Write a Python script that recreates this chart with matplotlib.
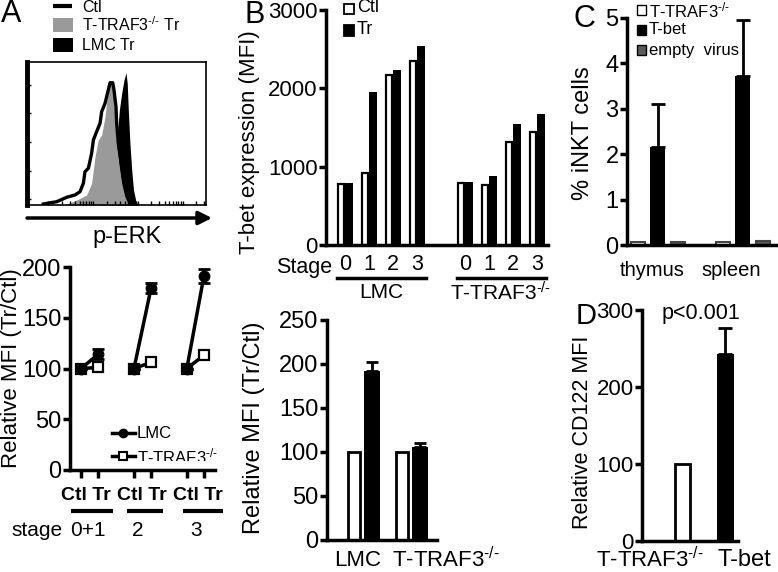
import matplotlib
matplotlib.use('Agg')
import matplotlib.pyplot as plt
from matplotlib.patches import Rectangle
from matplotlib.lines import Line2D
from matplotlib import transforms
import numpy as np

plt.rcParams['font.family'] = ['Liberation Sans', 'DejaVu Sans']
plt.rcParams['mathtext.fontset'] = 'custom'
plt.rcParams['mathtext.rm'] = 'Liberation Sans'
plt.rcParams['mathtext.it'] = 'Liberation Sans:italic'
plt.rcParams['mathtext.bf'] = 'Liberation Sans:bold'

KO = 'T-TRAF3$^{\\text{-/-}}$'

# ---------------- data ----------------
# Panel A histogram (x: % of axis width, y: % of axis height)
hist_ctl_x = [9.1, 16.6, 22.2, 26.8, 29.6, 31.5, 32.4, 34.3, 36.1, 37.1, 38.9, 40.8, 41.7,
              43.6, 45.4, 46.4, 47.9, 48.6, 49.7, 50.1, 51.0, 52.4, 53.8, 55.3, 57.5, 60.3]
hist_ctl_y = [0.7, 2.3, 5.4, 7.0, 9.3, 15.2, 23.3, 25.7, 36.2, 45.5, 51.3, 57.1, 65.2,
              71.1, 80.4, 85.5, 85.5, 80.4, 68.8, 57.1, 43.1, 31.5, 19.8, 10.5, 3.5, 0.7]
hist_traf3_x = [22.2, 27.8, 33.3, 36.1, 38.0, 39.8, 41.7, 43.6, 44.5, 46.0, 47.3, 48.2,
                49.2, 50.1, 51.6, 52.9, 54.7, 56.6]
hist_traf3_y = [0.7, 3.5, 7.0, 15.2, 33.8, 45.5, 49.0, 61.8, 72.3, 82.7, 85.1, 78.1,
                59.4, 43.1, 26.8, 15.2, 5.8, 0.7]
hist_lmc_x = [40.8, 48.2, 50.1, 51.6, 52.9, 54.2, 55.3, 56.0, 56.6, 57.5, 58.5, 59.5, 60.9, 61.6]
hist_lmc_y = [0.7, 31.5, 43.1, 66.4, 78.1, 87.4, 92.5, 85.1, 66.4, 43.1, 24.5, 10.5, 2.3, 0.7]

# Panel A lower
stagesA = ['0+1', '2', '3']
pairA = ['Ctl', 'Tr']
ctlA = 100
lmcA_tr = [114, 179, 191]
lmcA_err = [5, 5, 7]
traf3A_tr = [101, 106, 113]

# Panel B top
stagesB = ['0', '1', '2', '3']
groupsB = ['LMC', KO]
tbet_lmc_ctl = [775, 920, 2165, 2345]
tbet_lmc_tr = [795, 1950, 2230, 2545]
tbet_traf3_ctl = [790, 765, 1315, 1445]
tbet_traf3_tr = [805, 880, 1550, 1670]

# Panel B bottom
rel_groups = ['LMC', KO]
rel_ctl = [100, 100]
rel_tr = [192, 106]
rel_tr_err = [10, 4]

# Panel C
tissues = ['thymus', 'spleen']
inkt_traf3 = [0.07, 0.06]
inkt_tbet = [2.15, 3.72]
inkt_tbet_err = [0.95, 1.23]
inkt_empty = [0.07, 0.08]
legendC = [KO, 'T-bet', 'empty  virus']

# Panel D
d_groups = [KO, 'T-bet']
cd122 = [100, 243]
cd122_err = [0, 34]

# ---------------- helpers ----------------
W, H = 778, 572
fig = plt.figure(figsize=(W / 100, H / 100), dpi=100)


def ax_px(x0, y0, x1, y1):
    return fig.add_axes([x0 / W, 1 - y1 / H, (x1 - x0) / W, (y1 - y0) / H])


def fx(x):
    return x / W


def fy(y):
    return 1 - y / H


def txt(x, y, s, size=15, ha='center', va='center', **kw):
    return fig.text(fx(x), fy(y), s, fontsize=size, ha=ha, va=va, **kw)


def hline(x0, x1, y, lw=2.5):
    fig.add_artist(Line2D([fx(x0), fx(x1)], [fy(y), fy(y)], transform=fig.transFigure,
                          color='k', lw=lw, solid_capstyle='butt'))


def rect(x0, y0, x1, y1, fc, ec='k', lw=1.2):
    fig.add_artist(Rectangle((fx(x0), fy(y1)), (x1 - x0) / W, (y1 - y0) / H,
                             transform=fig.transFigure, fc=fc, ec=ec, lw=lw))


def style(ax, yt, size=17):
    for s in ['top', 'right']:
        ax.spines[s].set_visible(False)
    for s in ['left', 'bottom']:
        ax.spines[s].set_linewidth(2.5)
    ax.set_yticks(yt)
    ax.tick_params(axis='y', direction='out', length=5, width=2.5, pad=1, labelsize=size)


# ---------------- Panel A histogram ----------------
axh = ax_px(27, 62, 206, 205)
axh.set_xlim(0, 100)
axh.set_ylim(0, 100)
axh.fill_between(hist_lmc_x, 0, hist_lmc_y, color='black', lw=0)
axh.fill_between(hist_traf3_x, 0, hist_traf3_y, color='#9a9a9a', lw=0)
axh.plot(hist_ctl_x, hist_ctl_y, color='black', lw=2.4)
for s in axh.spines.values():
    s.set_linewidth(1.2)
axh.spines['left'].set_linewidth(3.5)
minor = []
for d in range(4):
    for m in range(1, 10):
        minor.append(12 + d * 25 + 25 * np.log10(m))
axh.set_xticks([v for v in minor if v < 100])
axh.set_xticklabels([])
axh.set_yticks([4, 24, 44, 64, 84])
axh.set_yticklabels([])
axh.tick_params(direction='in', length=3, width=1)

axh.annotate('', xy=(fx(212), fy(218)), xytext=(fx(27), fy(218)),
             xycoords='figure fraction', textcoords='figure fraction',
             arrowprops=dict(arrowstyle='-|>', lw=2.5, color='k', mutation_scale=20,
                             shrinkA=0, shrinkB=0))
txt(127, 237, 'p-ERK', size=17)

# legend A
hline(53, 72, 6, lw=3)
txt(82, 7, 'Ctl', size=11.5, ha='left')
rect(53, 18, 73, 32, '#9a9a9a', ec='none')
txt(82, 25, KO + ' Tr', size=11.5, ha='left')
rect(53, 38, 73, 52, 'black', ec='none')
txt(82, 45, 'LMC Tr', size=11.5, ha='left')
txt(11, 14, 'A', size=22)

# ---------------- Panel A lower ----------------
axa = ax_px(70, 267, 215, 470)
style(axa, [0, 50, 100, 150, 200])
axa.set_ylim(0, 200)
axa.set_xlim(0, 8.5)
xc = [0.65 + 3.1 * i for i in range(3)]
ticksA = []
for i in range(3):
    x0, x1 = xc[i], xc[i] + 1.0
    ticksA += [x0, x1]
    axa.plot([x0, x1], [ctlA, traf3A_tr[i]], color='k', lw=2.5, marker='s', ms=7,
             mfc='white', mec='k', mew=1.6, clip_on=False, zorder=3)
    axa.errorbar([x0, x1], [ctlA, lmcA_tr[i]], yerr=[0, lmcA_err[i]], color='k', lw=2.5,
                 marker='o', ms=7.5, capsize=4, capthick=2, elinewidth=2, clip_on=False, zorder=4)
axa.set_xticks(ticksA)
axa.set_xticklabels([])
axa.tick_params(axis='x', direction='out', length=6, width=2.5)

for cx, ux0, ux1 in zip([86, 142, 198], [71, 127, 183], [113, 163, 223]):
    txt(cx, 496, ' '.join(pairA), size=14, fontweight='bold')
    hline(ux0, ux1, 511, lw=3)
txt(37, 530, 'stage', size=15)
for cx, s in zip([88, 138, 196], stagesA):
    txt(cx, 530, s, size=15)
txt(12, 368, 'Relative MFI (Tr/Ctl)', size=16, rotation=90)

# legend inside A lower
fig.add_artist(Line2D([fx(112), fx(135)], [fy(433), fy(433)], transform=fig.transFigure,
                      color='k', lw=2.5))
fig.add_artist(Line2D([fx(123.5)], [fy(433)], transform=fig.transFigure, marker='o',
                      ms=6, color='k'))
txt(137, 433, 'LMC', size=12, ha='left')
fig.add_artist(Line2D([fx(112), fx(135)], [fy(456), fy(456)], transform=fig.transFigure,
                      color='k', lw=2.5))
fig.add_artist(Line2D([fx(123.5)], [fy(456)], transform=fig.transFigure, marker='s',
                      ms=6, mfc='white', mec='k', mew=1.5, color='k'))
t = txt(137, 456, KO, size=12, ha='left')
clip = Rectangle((0, fy(461)), 1, 1, transform=fig.transFigure)
t.set_clip_path(clip)

# ---------------- Panel B top ----------------
axb = ax_px(326, 10, 548, 245)
style(axb, [0, 1000, 2000, 3000], size=16)
axb.set_ylim(0, 3000)
axb.set_xlim(-0.79, 8.46)
axb.set_xticks([])
posB = [0, 1, 2, 3, 5, 6, 7, 8]
ctlB = tbet_lmc_ctl + tbet_traf3_ctl
trB = tbet_lmc_tr + tbet_traf3_tr
axb.bar([p - 0.165 for p in posB], ctlB, width=0.27, color='white', edgecolor='k', lw=1.6)
axb.bar([p + 0.168 for p in posB], trB, width=0.33, color='black', lw=0)
blB = transforms.blended_transform_factory(axb.transData, fig.transFigure)
for p, s in zip(posB, stagesB * 2):
    axb.text(p, fy(265), s, transform=blB, fontsize=15.5, ha='center', va='center')
txt(304, 267, 'Stage', size=15.5)
for g, (a, b) in enumerate([(0, 3), (5, 8)]):
    axb.add_artist(Line2D([a - 0.33, b + 0.37], [fy(278), fy(278)], transform=blB,
                          color='k', lw=2.5, clip_on=False))
    axb.text((a + b) / 2, fy(293), groupsB[g], transform=blB, fontsize=15,
             ha='center', va='center')
txt(250, 142, 'T-bet expression (MFI)', size=16, rotation=90)
rect(344, 4, 354, 14, 'white', lw=1.3)
txt(357, 8, 'Ctl', size=13, ha='left')
rect(344, 25, 354, 36, 'black', lw=1.3)
txt(357, 30, 'Tr', size=13, ha='left')
txt(255, 15, 'B', size=22)

# ---------------- Panel B bottom ----------------
axr = ax_px(327, 320, 437, 540)
style(axr, [0, 50, 100, 150, 200, 250], size=17)
axr.set_ylim(0, 250)
axr.set_xlim(0, 7.33)
axr.set_xticks([])
gc = [2.4, 5.6]
axr.bar([g - 0.6 for g in gc], rel_ctl, width=0.8, color='white', edgecolor='k', lw=2)
axr.bar([g + 0.6 for g in gc], rel_tr, width=1.05, color='black', lw=0,
        yerr=[[0, 0], rel_tr_err], capsize=4, error_kw=dict(lw=2, capthick=2))
txt(358, 560, rel_groups[0], size=16)
txt(446, 560, rel_groups[1], size=16)
txt(254, 428, 'Relative MFI (Tr/Ctl)', size=17, rotation=90)

# ---------------- Panel C ----------------
axc = ax_px(627, 18, 777, 245)
style(axc, [0, 1, 2, 3, 4, 5], size=17)
axc.set_ylim(0, 5)
axc.set_xlim(-0.525, 6.975)
axc.set_xticks([])
tc = [0, 4.25]
axc.bar([c for c in tc], inkt_traf3, width=0.7, color='white', edgecolor='#444444', lw=1.5)
axc.bar([c + 1 for c in tc], inkt_tbet, width=0.75, color='black', lw=0,
        yerr=[[0, 0], inkt_tbet_err], capsize=5, error_kw=dict(lw=2, capthick=2))
axc.bar([c + 2 for c in tc], inkt_empty, width=0.7, color='#5a5a5a', edgecolor='#444444', lw=1.5)
txt(652, 270, tissues[0], size=14.5)
txt(731, 270, tissues[1], size=14.5)
txt(583, 133, '% iNKT cells', size=17, rotation=90)
cols = ['white', 'black', '#5a5a5a']
for i, (lab, col) in enumerate(zip(legendC, cols)):
    yc = 10 + 20 * i
    rect(637, yc - 5, 646, yc + 5, col, lw=1.0)
    txt(649, yc, lab, size=12, ha='left')
txt(584, 19, 'C', size=22)

# ---------------- Panel D ----------------
axd = ax_px(642, 310, 738, 541)
style(axd, [0, 100, 200, 300], size=16)
axd.set_ylim(0, 300)
axd.set_xlim(0, 5.65)
axd.set_xticks([])
axd.bar(2.38, cd122[0], width=0.9, color='white', edgecolor='k', lw=2)
axd.bar(4.91, cd122[1], width=1.0, color='black', lw=0,
        yerr=[[0], [cd122_err[1]]], capsize=5, error_kw=dict(lw=2, capthick=2))
txt(650, 560, d_groups[0], size=16)
txt(744, 560, d_groups[1], size=17)
txt(701, 313, 'p<0.001', size=15.5)
txt(583, 432, 'Relative CD122 MFI', size=15.5, rotation=90)
txt(586, 316, 'D', size=21)

fig.savefig('out.png', dpi=100)
